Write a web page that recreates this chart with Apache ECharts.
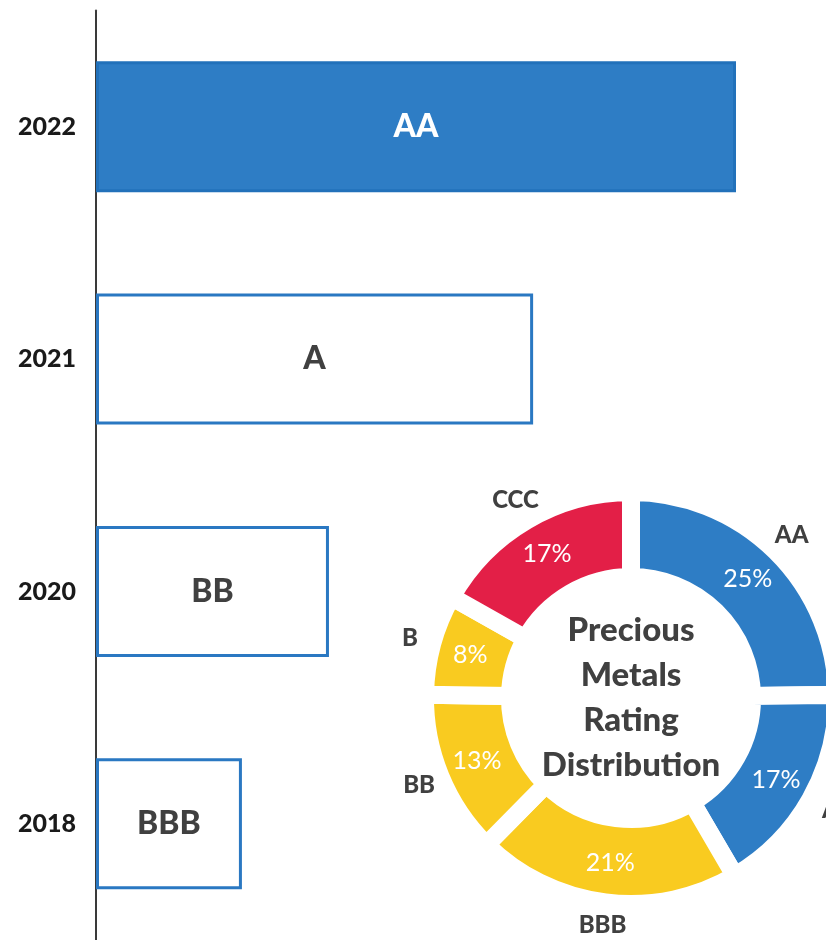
<!DOCTYPE html>
<html><head><meta charset="utf-8">
<script src="https://cdn.jsdelivr.net/npm/echarts@6/dist/echarts.min.js"></script>
<style>html,body{margin:0;padding:0;background:#fff}#c{width:826px;height:940px}</style>
</head><body><div id="c"></div>
<script>
// Bar chart data (bottom to top)
const years = ['2018', '2020', '2021', '2022'];
const barValues = [2.28, 3.64, 6.83, 10];
const barRatings = ['BBB', 'BB', 'A', 'AA'];
// Donut data
const pieNames = ['AA', 'A', 'BBB', 'BB', 'B', 'CCC'];
const pieValues = [25, 17, 21, 13, 8, 17];
const pieColors = ['#2E7DC5', '#2E7DC5', '#F9CB20', '#F9CB20', '#F9CB20', '#E31F47'];
const centerTitle = 'Precious\nMetals\nRating\nDistribution';

const FONT = 'Lato';
const chart = echarts.init(document.getElementById('c'));

const barData = barValues.map((v, i) => {
  const filled = i === barValues.length - 1;
  return {
    value: v,
    itemStyle: {
      color: filled ? '#2E7DC5' : '#ffffff',
      borderColor: filled ? '#2271BA' : '#2A78C2',
      borderWidth: 3
    },
    label: { color: filled ? '#ffffff' : '#404040' }
  };
});

const pieData = pieValues.map((v, i) => ({ name: pieNames[i], value: v, itemStyle: { color: pieColors[i] } }));
const pieLabelData = pieValues.map((v, i) => ({ name: pieNames[i], value: v }));

chart.setOption({
  animation: false,
  textStyle: { fontFamily: FONT },
  grid: { left: 96, right: 90, top: 10.5, bottom: -2.5, containLabel: false },
  xAxis: { type: 'value', min: 0, max: 10, show: false },
  yAxis: {
    type: 'category', data: years,
    axisLine: { show: true, lineStyle: { color: '#3a3a3a', width: 2 } },
    axisTick: { show: false },
    axisLabel: { color: '#1a1a1a', fontSize: 25, fontWeight: 900, fontFamily: FONT, margin: 20 },
    splitLine: { show: false }
  },
  series: [
    {
      type: 'bar', data: barData, barWidth: 131,
      label: {
        show: true, position: 'inside', fontSize: 32, fontWeight: 900, fontFamily: FONT,
        formatter: p => barRatings[p.dataIndex]
      },
      z: 2
    },
    {
      type: 'pie', center: [631, 698], radius: [121, 206], startAngle: 90, clockwise: true,
      data: pieData, z: 5,
      itemStyle: { borderColor: '#ffffff', borderWidth: 18 },
      label: {
        show: true, position: 'inside', color: '#ffffff', fontSize: 25, fontFamily: FONT,
        overflow: 'none', formatter: p => p.value + '%'
      },
      labelLine: { show: false },
      emphasis: { disabled: true }
    },
    {
      type: 'pie', center: [631, 698], radius: [200, 252], startAngle: 90, clockwise: true,
      data: pieLabelData, z: 8, silent: true,
      itemStyle: { color: 'rgba(0,0,0,0)', borderWidth: 0 },
      label: {
        show: true, position: 'inside', color: '#404040', fontSize: 24, fontWeight: 900, fontFamily: FONT,
        overflow: 'none', formatter: p => p.name
      },
      labelLine: { show: false },
      emphasis: { disabled: true }
    }
  ],
  graphic: [{
    type: 'text', x: 631, y: 698, z: 10,
    style: {
      text: centerTitle, fill: '#404040', font: '900 33px ' + FONT,
      align: 'center', verticalAlign: 'middle', lineHeight: 45
    }
  }]
});
</script></body></html>
